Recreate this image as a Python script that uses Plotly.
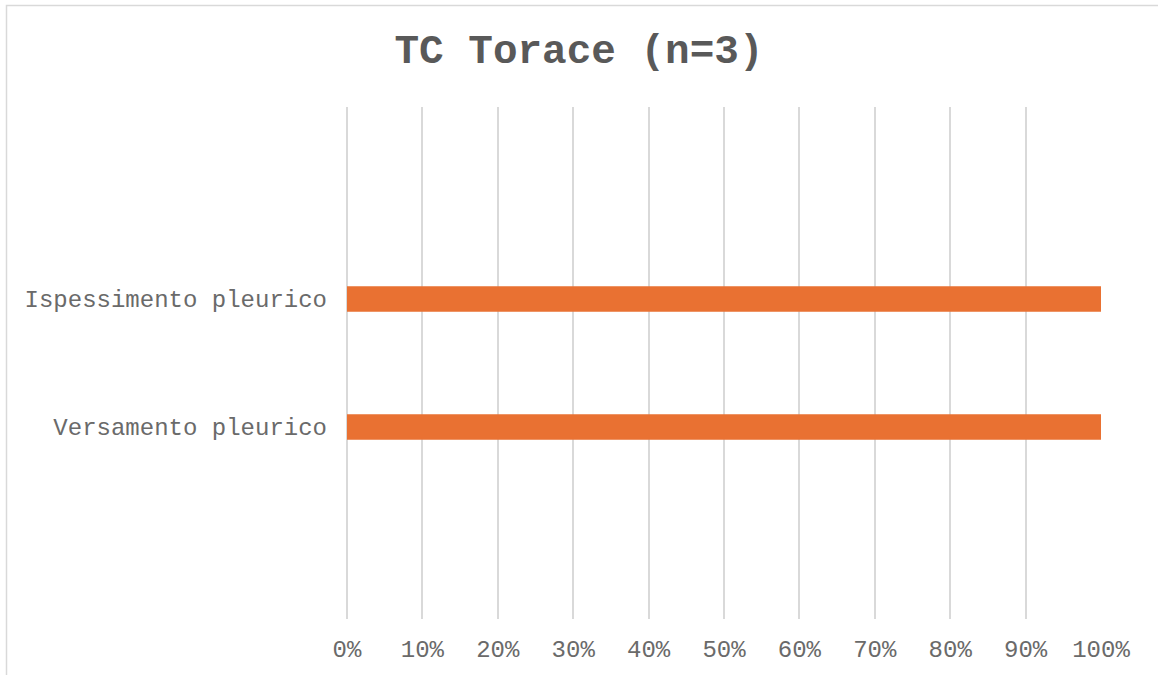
import plotly.graph_objects as go

# Findings on chest CT (share of patients)
categories = ["Versamento pleurico", "Ispessimento pleurico"]
shares = [1.0, 1.0]
tick_values = [0, 0.1, 0.2, 0.3, 0.4, 0.5, 0.6, 0.7, 0.8, 0.9, 1.0]
tick_labels = ["0%", "10%", "20%", "30%", "40%", "50%", "60%", "70%", "80%", "90%", "100%"]
title_text = "TC Torace (n=3)"

W, H = 1158, 675
L, R, T, B = 347, 57, 107, 56
plot_w = W - L - R
plot_h = H - T - B

MONO = "Liberation Mono, Courier New, monospace"
GREY = "#595959"
LABEL_GREY = "#6a6a6a"
GRID = "#d9d9d9"

fig = go.Figure(
    go.Bar(
        y=categories,
        x=shares,
        orientation="h",
        marker=dict(color="#E97132", line=dict(width=0)),
        width=0.2,
        hoverinfo="skip",
    )
)

# outer chart frame (left and top edges visible)
def px_x(p):
    return (p - L) / plot_w

def px_y(p):
    return (H - B - p) / plot_h

fig.add_shape(
    type="rect", xref="paper", yref="paper",
    x0=px_x(6.5), x1=px_x(1175), y0=px_y(700), y1=px_y(5.5),
    line=dict(color=GRID, width=1.5), fillcolor="rgba(0,0,0,0)",
    layer="below",
)

fig.update_layout(
    width=W, height=H,
    margin=dict(l=L, r=R, t=T, b=B, autoexpand=False),
    paper_bgcolor="white", plot_bgcolor="white",
    showlegend=False,
    title=dict(
        text=title_text,
        x=0.5, xref="container", xanchor="center",
        y=1 - 49 / H, yref="container", yanchor="middle",
        font=dict(family=MONO, size=41, color=GREY, weight="bold"),
    ),
    xaxis=dict(
        range=[0, 1.0],
        tickvals=tick_values, ticktext=tick_labels,
        showgrid=True, gridcolor=GRID, gridwidth=1.5,
        zeroline=True, zerolinecolor=GRID, zerolinewidth=1.5,
        showline=False, ticks="",
        tickfont=dict(family=MONO, size=24, color=LABEL_GREY),
        ticklabelstandoff=13,
        fixedrange=True,
    ),
    yaxis=dict(
        type="category",
        categoryorder="array", categoryarray=categories,
        range=[-1.5, 2.5],
        showgrid=False, zeroline=False, showline=False, ticks="",
        tickfont=dict(family=MONO, size=24, color=LABEL_GREY),
        ticklabelstandoff=19,
        fixedrange=True,
    ),
)

fig.write_html("out.html", config={"displayModeBar": False})
